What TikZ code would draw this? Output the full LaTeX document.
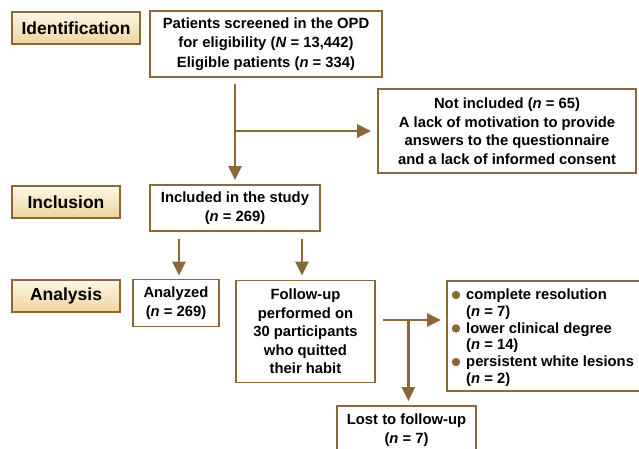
\documentclass[tikz,border=0pt]{standalone}
\usepackage{fontspec}
\setmainfont{Liberation Sans}
\usetikzlibrary{arrows.meta,calc}
\definecolor{brn}{RGB}{139,104,56}
\definecolor{lbtop}{RGB}{254,246,228}
\definecolor{lbbot}{RGB}{238,212,160}
\tikzset{
  box/.style={draw=brn, line width=1.8pt, fill=white, inner sep=0pt, align=center,
    font=\fontsize{14.8}{19}\selectfont\bfseries},
  lbl/.style={draw=brn, line width=2.4pt, top color=lbtop, bottom color=lbbot, inner sep=0pt,
    font=\fontsize{17.5}{20}\selectfont\bfseries},
  arr/.style={draw=brn, line width=2.4pt, -{Triangle[length=14pt,width=13pt]}},
  ln/.style={draw=brn, line width=2.4pt}
}
\begin{document}
\begin{tikzpicture}[x=1pt,y=-1pt]
\useasboundingbox (0,0) rectangle (639,448);
\clip (0,0) rectangle (639,448);
% stage labels
\node[lbl, minimum width=128, minimum height=32] (lid) at (76,28) {Identification};
\node[lbl, minimum width=108, minimum height=32] (linc) at (66,202) {Inclusion};
\node[lbl, minimum width=108, minimum height=32] (lana) at (66,296) {Analysis};
% boxes
\node[box, minimum width=232, minimum height=66, font=\fontsize{14.8}{19.5}\selectfont\bfseries] (pat) at (266,44)
  {Patients screened in the OPD\\for eligibility (\textit{N} = 13,442)\\Eligible patients (\textit{n} = 334)};
\node[box, minimum width=258, minimum height=84, font=\fontsize{14.8}{18.5}\selectfont\bfseries] (notinc) at (507,131)
  {Not included (\textit{n} = 65)\\A lack of motivation to provide\\answers to the questionnaire\\and a lack of informed consent};
\node[box, minimum width=170, minimum height=46] (incl) at (235,208)
  {Included in the study\\(\textit{n} = 269)};
\node[box, minimum width=86, minimum height=47] (ana) at (176,303)
  {Analyzed\\(\textit{n} = 269)};
\node[box, minimum width=139, minimum height=102, font=\fontsize{14.8}{18.5}\selectfont\bfseries] (fup) at (305.5,331.5)
  {Follow-up\\performed on\\30 participants\\who quitted\\their habit};
\node[box, minimum width=197, minimum height=110] (out) at (545.5,336) {};
\node[anchor=north west, inner sep=0pt, align=left,
  font=\fontsize{14.8}{16.8}\selectfont\bfseries] (outtxt) at (466,288.5)
  {complete resolution\\(\textit{n} = 7)\\lower clinical degree\\(\textit{n} = 14)\\persistent white lesions\\(\textit{n} = 2)};
\fill[brn] (456,295) circle (4.2);
\fill[brn] (456,328.5) circle (4.2);
\fill[brn] (456,362) circle (4.2);
\node[box, minimum width=139, minimum height=48] (lost) at (406.5,430)
  {Lost to follow-up\\(\textit{n} = 7)};
% connectors
\coordinate (s1) at ($(pat.south -| incl.north)+(0,6)$);
\draw[arr, shorten >=4pt] (s1) -- (incl.north);
\coordinate (j1) at (incl.north |- notinc.west);
\draw[arr, shorten >=6pt] (j1) -- (notinc.west);
\coordinate (a1) at ($(incl.south)+(-56,7)$);
\draw[arr, shorten >=3pt] (a1) -- (a1 |- ana.north);
\coordinate (a2) at ($(incl.south)+(67,7)$);
\draw[arr, shorten >=4pt] (a2) -- (a2 |- fup.north);
\coordinate (b1) at ($(fup.east)+(7.5,-11.5)$);
\draw[arr, shorten >=5pt] (b1) -- (b1 -| out.west);
\coordinate (b2) at ($(b1)+(25,0)$);
\draw[arr, shorten >=4pt] (b2) -- (b2 |- lost.north);
\end{tikzpicture}
\end{document}
